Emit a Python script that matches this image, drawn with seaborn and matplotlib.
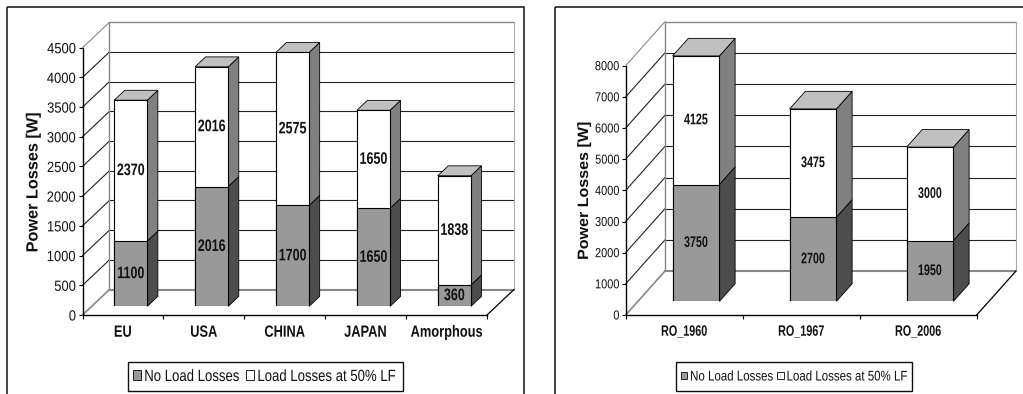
import matplotlib
matplotlib.use("Agg")
import matplotlib.pyplot as plt
import matplotlib.patheffects as pe
import matplotlib.transforms as mtransforms
from matplotlib.patches import Patch, Polygon, Rectangle
import seaborn as sns

# ---- data ----
eu_categories = ["EU", "USA", "CHINA", "JAPAN", "Amorphous"]
eu_no_load = [1100, 2016, 1700, 1650, 360]
eu_load = [2370, 2016, 2575, 1650, 1838]
eu_ticks = [0, 500, 1000, 1500, 2000, 2500, 3000, 3500, 4000, 4500]

ro_categories = ["RO_1960", "RO_1967", "RO_2006"]
ro_no_load = [3750, 2700, 1950]
ro_load = [4125, 3475, 3000]
ro_ticks = [0, 1000, 2000, 3000, 4000, 5000, 6000, 7000, 8000]

series_names = ["No Load Losses", "Load Losses at 50% LF"]
y_title = "Power Losses [W]"

# ---- style ----
sns.set_theme(style="white")
plt.rcParams["font.family"] = ["Liberation Sans", "DejaVu Sans"]
W, H = 1023, 394
GREY, DARK, MID, LIGHT = "#999999", "#4d4d4d", "#808080", "#c0c0c0"
INK = "#111111"
fig = plt.figure(figsize=(W / 100, H / 100), dpi=100, facecolor="white")
px = mtransforms.Affine2D().scale(1 / W, -1 / H).translate(0, 1) + fig.transFigure


class Condense(pe.AbstractPathEffect):
    """Scale a text's glyphs along its own baseline (the source font is condensed)."""

    def __init__(self, sx, anchor=0.5):
        super().__init__()
        self.sx, self.anchor = sx, anchor

    def draw_path(self, renderer, gc, tpath, affine, rgbFace=None):
        xs = tpath.vertices[:, 0]
        c = xs.min() + self.anchor * (xs.max() - xs.min())
        squeeze = mtransforms.Affine2D().translate(-c, 0).scale(self.sx, 1).translate(c, 0)
        renderer.draw_path(gc, tpath, squeeze + affine, rgbFace)


def axes_at(left, bottom, width, height, z):
    ax = fig.add_axes([left / W, 1 - bottom / H, width / W, height / H], zorder=z)
    ax.patch.set_alpha(0)
    return ax


def panel(cats, no_load, load, ticks, x0, y0, xend, ytop, dx, dy, d0, d1, barw, shift,
          val, tick, cat, title, title_xy, frame, leg_box, leg):
    n = len(cats)
    vmax = ticks[-1]
    w = (xend - x0) / n
    s = (y0 - ytop) / vmax
    dc = lambda d: d * dx / w
    dv = lambda d: d * dy / s

    fig.add_artist(Rectangle((frame[0], 7), frame[1] - frame[0], 420, transform=px,
                             fill=False, ec=INK, lw=1.1))

    front = axes_at(x0, y0, xend - x0, y0 - ytop, 1)
    front.set_xlim(-0.5, n - 0.5)
    front.set_ylim(0, vmax)
    sns.despine(ax=front)
    for sp in ("left", "bottom"):
        front.spines[sp].set_color("black")
        front.spines[sp].set_linewidth(1.0)
    front.set_yticks(ticks)
    front.set_yticklabels([str(t) for t in ticks], fontsize=tick[0], color=INK)
    front.set_xticks(range(n))
    front.set_xticklabels(cats, fontsize=cat[0], fontweight="bold", color=INK)
    for lab in front.get_yticklabels():
        lab.set_path_effects([Condense(tick[1], anchor=1.0)])
    for lab in front.get_xticklabels():
        lab.set_path_effects([Condense(cat[1])])
    front.set_xticks([i - 0.5 for i in range(n + 1)], minor=True)
    front.tick_params(axis="x", which="major", length=0, pad=7)
    front.tick_params(axis="x", which="minor", length=3, width=0.8, color="black", bottom=True)
    front.tick_params(axis="y", length=3, width=0.8, color="black", left=True, pad=1.5)
    ylab = front.set_ylabel(y_title, fontsize=title[0], fontweight="bold", color=INK, va="center")
    ylab.set_path_effects([Condense(title[1])])
    front.yaxis.set_label_coords(title_xy[0], title_xy[1], transform=px)

    xl, xr = -0.5, n - 0.5
    back = dict(clip_on=False)
    for t in ticks:
        col, lw = ("#888888", 1.5) if t == 0 else ("#222222", 0.8)
        if t == vmax:
            col, lw = "#888888", 1.0
        front.plot([xl + dc(1), xr + dc(1)], [t + dv(1)] * 2, color=col, lw=lw, **back)
        front.plot([xl, xl + dc(1)], [t, t + dv(1)], color=col if t in (0, vmax) else "#222222",
                   lw=1.2 if t == 0 else 0.8, **back)
    front.plot([xl + dc(1)] * 2, [dv(1), vmax + dv(1)], color="#888888", lw=1.0, **back)
    front.plot([xr + dc(1)] * 2, [dv(1), vmax + dv(1)], color="#aaaaaa", lw=0.8, **back)
    front.plot([xr, xr + dc(1)], [0, dv(1)], color="black", lw=0.9, **back)

    bars = axes_at(x0 + shift, y0 - d0 * dy, xend - x0, y0 - ytop, 2)
    total = [a + b for a, b in zip(no_load, load)]
    sns.barplot(x=cats, y=total, ax=bars, color="white", saturation=1, width=barw,
                edgecolor="black", linewidth=0.8, zorder=3)
    sns.barplot(x=cats, y=no_load, ax=bars, color=GREY, saturation=1, width=barw,
                edgecolor="black", linewidth=0.8, zorder=3)
    bars.set_xlim(-0.5, n - 0.5)
    bars.set_ylim(0, vmax)
    bars.axis("off")

    dd = d1 - d0
    kw = dict(ec="black", lw=0.6, clip_on=False, zorder=2)
    for i in range(n):
        r, l = i + barw / 2, i - barw / 2
        a, t = no_load[i], total[i]
        bars.add_patch(Polygon([(r, 0), (r + dc(dd), dv(dd)), (r + dc(dd), a + dv(dd)), (r, a)], fc=DARK, **kw))
        bars.add_patch(Polygon([(r, a), (r + dc(dd), a + dv(dd)), (r + dc(dd), t + dv(dd)), (r, t)], fc=MID, **kw))
        bars.add_patch(Polygon([(l, t), (r, t), (r + dc(dd), t + dv(dd)), (l + dc(dd), t + dv(dd))], fc=LIGHT, **kw))
        for y, v in ((a / 2, no_load[i]), (a + load[i] / 2, load[i])):
            bars.text(i, y, str(v), ha="center", va="center", fontsize=val[0], fontweight="bold",
                      color=INK, zorder=5, path_effects=[Condense(val[1])])

    # legend: box of its own, since the condensed labels are narrower than their layout
    fig.add_artist(Rectangle((leg_box[0], 362), leg_box[1] - leg_box[0], 29, transform=px,
                             fc="white", ec=INK, lw=1.0))
    handles = [Patch(fc=GREY, ec="#222222", lw=0.7), Patch(fc="white", ec="#222222", lw=0.7)]
    legend = fig.legend(handles, series_names, ncols=2, loc="center left",
                        bbox_to_anchor=(leg_box[0] + 5, 376.5), bbox_transform=px,
                        fontsize=leg["fs"], frameon=False, handlelength=leg["hl"], handleheight=leg["hl"],
                        handletextpad=leg["pad"], columnspacing=leg["col"],
                        borderpad=0, borderaxespad=0, labelcolor="#111111")
    for txt in legend.get_texts():
        txt.set_path_effects([Condense(leg["sx"], anchor=0.0)])


panel(eu_categories, eu_no_load, eu_load, eu_ticks,
      x0=82.5, y0=315, xend=487, ytop=47.7, dx=27, dy=25.5, d0=0.34, d1=0.73, barw=0.41, shift=7.8,
      val=(12.0, 0.75), tick=(10.6, 0.88), cat=(11.7, 0.79), title=(11.7, 1.0),
      title_xy=(33, 182.7), frame=(7, 524), leg_box=(127.7, 403),
      leg=dict(fs=11.7, hl=0.53, pad=0.18, col=-0.97, sx=0.81))
panel(ro_categories, ro_no_load, ro_load, ro_ticks,
      x0=625.7, y0=315, xend=976.7, ytop=65.7, dx=39.3, dy=44, d0=0.31, d1=0.71, barw=0.40, shift=11.8,
      val=(11.0, 0.70), tick=(9.4, 0.84), cat=(10.8, 0.72), title=(10.8, 1.07),
      title_xy=(584.0, 190.7), frame=(555, 1040), leg_box=(675.7, 911.7),
      leg=dict(fs=10.1, hl=0.48, pad=0.19, col=-1.03, sx=0.82))

fig.savefig("out.png", dpi=100, facecolor="white")
